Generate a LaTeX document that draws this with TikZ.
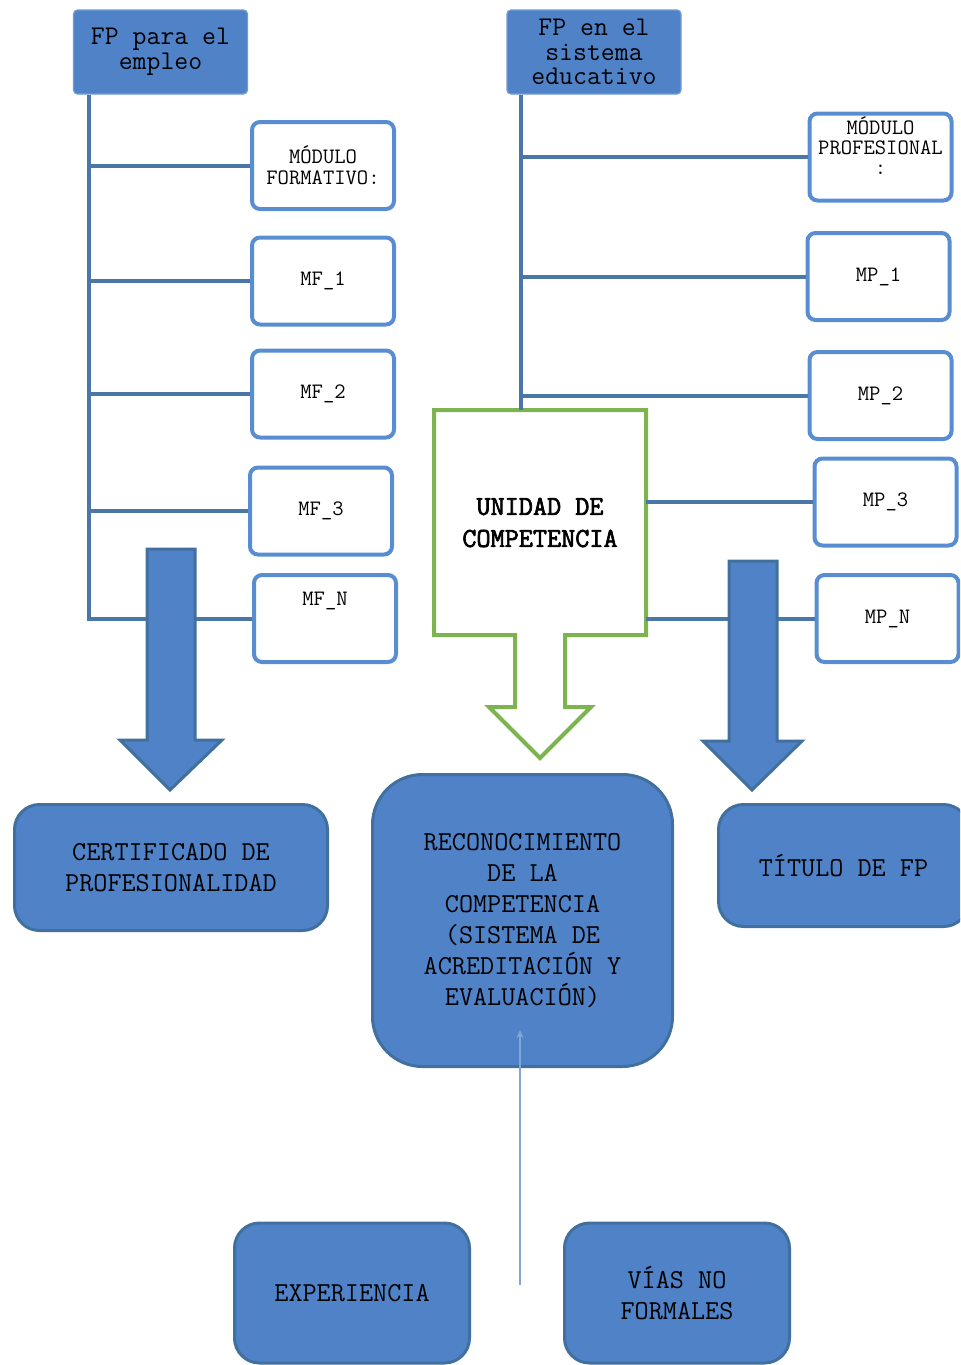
\documentclass[tikz,border=0pt]{standalone}
\usepackage{fontspec}
\newfontfamily\ucfont[AutoFakeBold=2.5]{Latin Modern Mono}
\usepackage{tikz}
\usetikzlibrary{arrows.meta,calc}
\definecolor{fpblue}{HTML}{5082C8}
\definecolor{fpedge}{HTML}{41709F}
\definecolor{trunkblue}{HTML}{4A77A8}
\definecolor{modline}{HTML}{588DD2}
\definecolor{ucgreen}{HTML}{7DB44F}
\definecolor{thinblue}{HTML}{7EA6D6}
\tikzstyle{fpbox} = [fill=fpblue, draw=fpblue!80!white, line width=0.6pt,
    rounded corners=2pt, minimum width=87pt, minimum height=42pt, inner sep=0pt,
    align=center, font=\ttfamily\fontsize{13.5}{12.3}\selectfont]
\tikzstyle{modbox} = [draw=modline, fill=white, line width=2pt,
    rounded corners=4pt, minimum width=71pt, minimum height=43.5pt, inner sep=0pt,
    align=center, font=\ttfamily\fontsize{11}{10.5}\selectfont]
\tikzstyle{bigbox} = [draw=fpedge, fill=fpblue, line width=1.5pt,
    rounded corners=12.5pt, inner sep=0pt,
    align=center, font=\ttfamily\fontsize{13.7}{15.5}\selectfont]
\tikzstyle{branch} = [draw=trunkblue, line width=2pt]
\tikzstyle{bluearrow} = [draw=fpedge, fill=fpblue, line width=1.5pt]
\tikzstyle{greenarrow} = [draw=ucgreen, fill=white, line width=2pt]

\begin{document}
\begin{tikzpicture}[x=0.5pt, y=-0.5pt]
    \clip (0,0) rectangle (960,1365);

    \node [fpbox] (hdrL) at (160.5,52) {FP para el\\empleo};
    \node [fpbox] (hdrR) at (594,52) {FP en el\\sistema\\educativo};

    \node [modbox] (mf0) at (323,165.5) {MÓDULO\\FORMATIVO:};
    \node [modbox] (mf1) at (323,281) {MF\_1};
    \node [modbox] (mf2) at (323,394) {MF\_2};
    \node [modbox] (mf3) at (321,511) {MF\_3};
    \node [modbox] (mfN) at (325,618.5)
        {\parbox[c][40pt][t]{68pt}{\centering\vspace*{7pt}MF\_N}};

    \node [modbox] (mp0) at (880.5,157)
        {\parbox[c][40pt][t]{70pt}{\centering\fontsize{11}{10}\selectfont MÓDULO\\PROFESIONAL\\:}};
    \node [modbox] (mp1) at (878.5,276.5) {MP\_1};
    \node [modbox] (mp2) at (880.5,395.5) {MP\_2};
    \node [modbox] (mp3) at (885.5,502) {MP\_3};
    \node [modbox] (mpN) at (887.5,618.5) {MP\_N};

    \draw [greenarrow] (434,410) -- (646,410) -- (646,635) -- (565,635) -- (565,707)
        -- (591,707) -- (540,758) -- (489,707) -- (515,707) -- (515,635)
        -- (434,635) -- cycle;
    \node [minimum width=106pt, minimum height=112.5pt, inner sep=0pt, align=center,
        font=\ucfont\bfseries\fontsize{13.7}{16}\selectfont] (uc) at (540,522.5)
        {UNIDAD DE\\COMPETENCIA};

    \coordinate (tL) at (89,95);
    \coordinate (tR) at (521,95);
    \draw [branch] (tL) |- (mfN.west);
    \foreach \m in {mf0,mf1,mf2,mf3}
        \draw [branch] (tL |- \m.west) -- (\m.west);
    \draw [branch] (tR) -- (tR |- uc.north);
    \foreach \m in {mp0,mp1,mp2}
        \draw [branch] (tR |- \m.west) -- (\m.west);
    \foreach \m in {mp3,mpN}
        \draw [branch] (uc.east |- \m.west) -- (\m.west);

    \draw [bluearrow] (147,549) -- (195,549) -- (195,740) -- (222,740) -- (170,790)
        -- (120,740) -- (147,740) -- cycle;
    \draw [bluearrow] (729,561) -- (777,561) -- (777,741) -- (802,741) -- (752,790)
        -- (703,741) -- (729,741) -- cycle;

    \node [bigbox, minimum width=156.5pt, minimum height=63pt] (cert) at (171,867.5)
        {CERTIFICADO DE\\PROFESIONALIDAD};
    \node [bigbox, minimum width=150pt, minimum height=146pt, rounded corners=25pt] (rec)
        at (522.5,920.5)
        {RECONOCIMIENTO\\DE LA\\COMPETENCIA\\(SISTEMA DE\\ACREDITACIÓN Y\\EVALUACIÓN)};
    \node [bigbox, minimum width=125pt, minimum height=61pt] (tit) at (843.5,865.5)
        {TÍTULO DE FP};

    \node [bigbox, minimum width=117.5pt, minimum height=70pt] (exp) at (352,1293)
        {EXPERIENCIA};
    \node [bigbox, minimum width=112.5pt, minimum height=70pt] (vias) at (677,1293)
        {VÍAS NO\\FORMALES};

    \coordinate (vin) at (520,1285);
    \draw [thinblue, line width=0.8pt, -{Stealth[length=4pt, width=3.5pt]}]
        (vin) -- ($(vin |- rec.south)+(0,-38)$);
\end{tikzpicture}
\end{document}
